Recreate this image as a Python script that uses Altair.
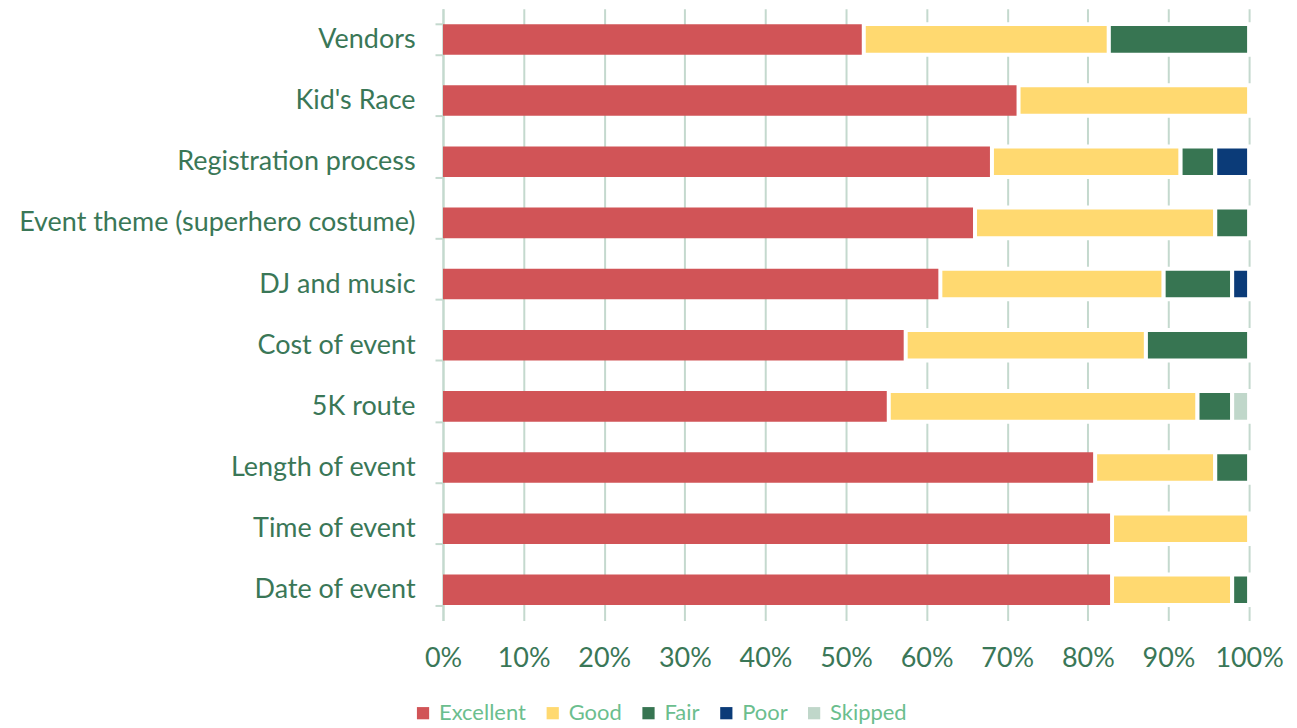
import altair as alt
import pandas as pd

categories = ["Vendors", "Kid's Race", "Registration process", "Event theme (superhero costume)",
              "DJ and music", "Cost of event", "5K route", "Length of event", "Time of event", "Date of event"]
ratings = ["Excellent", "Good", "Fair", "Poor", "Skipped"]
excellent = [52.2, 71.4, 68.1, 66.0, 61.7, 57.4, 55.3, 80.9, 83.0, 83.0]
good      = [30.4, 28.6, 23.4, 29.8, 27.7, 29.8, 38.3, 14.9, 17.0, 14.9]
fair      = [17.4, 0.0, 4.3, 4.2, 8.5, 12.8, 4.3, 4.2, 0.0, 2.1]
poor      = [0.0, 0.0, 4.2, 0.0, 2.1, 0.0, 0.0, 0.0, 0.0, 0.0]
skipped   = [0.0, 0.0, 0.0, 0.0, 0.0, 0.0, 2.1, 0.0, 0.0, 0.0]
colors = ["#D15457", "#FFD970", "#377552", "#0B3B78", "#C0D7CA"]

series = [excellent, good, fair, poor, skipped]
rows = []
for ri, (r, vals) in enumerate(zip(ratings, series)):
    for c, v in zip(categories, vals):
        if v > 0:
            rows.append({"Item": c, "Rating": r, "Share": v / 100.0, "order": ri})
df = pd.DataFrame(rows)

FONT = "Lato"
label_col = "#3A7757"

chart = alt.Chart(df).mark_bar(stroke="white").encode(
    y=alt.Y("Item:N", sort=categories, title=None,
            scale=alt.Scale(paddingInner=0.5, paddingOuter=0.25),
            axis=alt.Axis(tickBand="extent", tickSize=8, tickColor="#C4D9CE", tickWidth=2,
                          domainColor="#C4D9CE", domainWidth=2, labelFontSize=27,
                          labelFont=FONT, labelColor=label_col, labelPadding=20,
                          labelLimit=1000, grid=False)),
    x=alt.X("Share:Q", stack="zero", title=None,
            scale=alt.Scale(domain=[0, 1], nice=False),
            axis=alt.Axis(format="%", values=[i / 10 for i in range(11)], grid=True,
                          gridColor="#C4D9CE", gridWidth=2, ticks=False, domain=False,
                          labelFontSize=27, labelFont=FONT, labelColor=label_col,
                          labelPadding=25, labelFlush=False)),
    color=alt.Color("Rating:N", sort=ratings,
                    scale=alt.Scale(domain=ratings, range=colors),
                    legend=alt.Legend(title=None, orient="none", direction="horizontal",
                                      legendX=-31, legendY=695, symbolType="square",
                                      symbolSize=150, symbolStrokeWidth=0,
                                      labelFontSize=22, labelFont=FONT, labelColor="#6BBE8E",
                                      labelOffset=5, columnPadding=15)),
    order=alt.Order("order:Q"),
    strokeWidth=alt.condition(alt.datum.Rating == "Excellent", alt.value(0), alt.value(4)),
).properties(
    width=808, height=613,
    autosize=alt.AutoSizeParams(type="none"),
    padding={"left": 436, "top": 0, "right": 40, "bottom": 105},
).configure_view(stroke=None)

chart.save("out.html", embed_options={"renderer": "svg", "actions": False})
